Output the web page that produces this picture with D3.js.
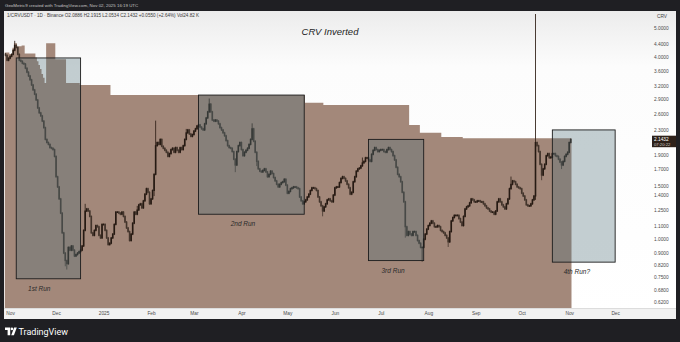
<!DOCTYPE html>
<html>
<head>
<meta charset="utf-8">
<script src="https://cdn.jsdelivr.net/npm/d3@7"></script>
<style>
  html, body { margin: 0; padding: 0; background: #1f1f23; }
  svg { display: block; font-family: "Liberation Sans", Arial, sans-serif; }
</style>
</head>
<body>
<svg id="chart" width="680" height="342"></svg>
<script>
// ---- data (1/CRVUSDT, daily) ----
var firstDay = Date.UTC(2024, 9, 29);   // first candle: Oct 29 2024
var firstOpen = 4.10;

// daily closes, one per day from firstDay
var closes = [
  4.06, 3.91, 3.97, 4.03, 4.09, 4.22, 4.38, 4.31, 4.09, 3.91,
  3.88, 3.82, 3.80, 3.68, 3.57, 3.47, 3.37, 3.24, 3.12, 3.02,
  2.89, 2.72, 2.62, 2.56, 2.46, 2.34, 2.14, 2.09, 2.06, 2.01,
  2.00, 1.98, 1.88, 1.61, 1.49, 1.36, 1.22, 1.05, 0.90, 0.85,
  0.83, 0.94, 0.92, 0.95, 0.92, 0.88, 0.89, 0.90, 0.91, 0.92,
  0.95, 1.07, 1.24, 1.26, 1.24, 1.19, 1.05, 1.03, 1.07, 1.11,
  1.10, 1.03, 1.01, 1.12, 1.12, 1.07, 1.01, 0.96, 0.97, 1.01,
  1.04, 1.12, 1.23, 1.23, 1.22, 1.21, 1.23, 1.19, 1.14, 1.09,
  1.06, 0.99, 1.04, 1.13, 1.23, 1.21, 1.25, 1.30, 1.31, 1.27,
  1.34, 1.41, 1.47, 1.43, 1.31, 1.36, 1.45, 1.64, 2.04, 2.09,
  2.06, 2.14, 2.03, 2.00, 1.97, 1.94, 1.88, 1.92, 1.98, 2.00,
  1.94, 2.01, 1.97, 1.94, 2.01, 1.98, 2.04, 2.14, 2.25, 2.30,
  2.23, 2.19, 2.22, 2.28, 2.32, 2.37, 2.39, 2.35, 2.32, 2.30,
  2.41, 2.52, 2.64, 2.80, 2.64, 2.48, 2.46, 2.48, 2.46, 2.41,
  2.34, 2.30, 2.25, 2.20, 2.12, 2.04, 2.01, 2.00, 1.95, 1.84,
  1.76, 1.95, 2.04, 2.09, 1.98, 1.89, 1.94, 1.97, 2.00, 2.06,
  2.14, 2.32, 2.11, 1.94, 1.81, 1.71, 1.68, 1.67, 1.69, 1.71,
  1.67, 1.61, 1.64, 1.68, 1.65, 1.60, 1.56, 1.52, 1.49, 1.52,
  1.54, 1.55, 1.58, 1.51, 1.42, 1.44, 1.47, 1.48, 1.49, 1.49,
  1.48, 1.47, 1.38, 1.34, 1.31, 1.33, 1.35, 1.38, 1.41, 1.45,
  1.48, 1.48, 1.47, 1.45, 1.38, 1.33, 1.29, 1.24, 1.28, 1.31,
  1.35, 1.36, 1.34, 1.33, 1.40, 1.48, 1.49, 1.49, 1.54, 1.59,
  1.61, 1.59, 1.56, 1.52, 1.48, 1.41, 1.43, 1.55, 1.61, 1.68,
  1.71, 1.72, 1.75, 1.79, 1.81, 1.86, 1.86, 1.83, 1.81, 1.91,
  1.97, 2.01, 1.98, 1.95, 1.97, 1.98, 1.98, 1.95, 1.94, 1.98,
  2.01, 1.98, 1.95, 1.89, 1.83, 1.73, 1.64, 1.61, 1.55, 1.43,
  1.33, 1.10, 1.03, 1.06, 1.04, 1.03, 1.06, 1.06, 1.03, 0.99,
  0.97, 0.94, 0.94, 1.00, 1.04, 1.08, 1.11, 1.13, 1.15, 1.13,
  1.10, 1.10, 1.11, 1.10, 1.07, 1.06, 1.05, 1.03, 1.01, 0.98,
  1.06, 1.15, 1.18, 1.20, 1.20, 1.20, 1.17, 1.14, 1.11, 1.19,
  1.26, 1.28, 1.29, 1.32, 1.36, 1.35, 1.33, 1.33, 1.34, 1.34,
  1.33, 1.33, 1.31, 1.29, 1.27, 1.26, 1.24, 1.23, 1.23, 1.21,
  1.24, 1.33, 1.36, 1.33, 1.30, 1.28, 1.26, 1.31, 1.36, 1.47,
  1.52, 1.56, 1.55, 1.52, 1.49, 1.48, 1.47, 1.42, 1.39, 1.35,
  1.30, 1.29, 1.29, 1.31, 1.35, 1.39, 2.09, 2.04, 1.95, 1.77,
  1.63, 1.71, 1.77, 1.89, 1.92, 1.86, 1.87, 1.92, 1.92, 1.89,
  1.88, 1.84, 1.80, 1.76, 1.81, 1.88, 1.91, 1.94, 2.09, 2.14
];

// notable wicks: [day index, high, low]
var wicks = [
  [6, 4.50, null], [39, null, 0.82], [40, null, 0.80], [52, 1.30, null],
  [86, 1.28, null], [97, null, 1.40], [98, 2.45, null], [118, 2.30, null],
  [133, 2.90, null], [150, null, 1.68], [161, 2.40, null], [164, null, 1.76],
  [207, null, 1.20], [233, 1.85, null], [261, null, 1.02], [272, null, 0.85],
  [289, null, 0.95], [330, 1.60, null], [346, 5.52, 1.36], [350, null, 1.58],
  [363, null, 1.72]
];

// brown step area (indicator): [from day index, level]
var areaSteps = [
  [0, 4.15], [3, 4.10], [5, 4.30], [6, 4.45], [8, 4.35], [11, 4.38], [13, 4.12],
  [20, 3.99], [21, 3.88], [22, 3.77], [23, 3.66], [24, 3.52], [25, 3.42], [26, 3.29],
  [27, 4.45], [33, 3.94], [40, 3.29], [49, 3.24], [69, 3.00], [196, 2.83],
  [208, 2.78], [264, 2.39], [271, 2.25], [285, 2.18], [299, 2.16]
];

// annotated boxes
var runNames  = ["1st Run", "2nd Run", "3rd Run", "4th Run?"];
var runStart  = [Date.UTC(2024, 10, 5), Date.UTC(2025, 2, 4), Date.UTC(2025, 5, 23), Date.UTC(2025, 9, 21)];
var runEnd    = [Date.UTC(2024, 11, 17), Date.UTC(2025, 4, 12), Date.UTC(2025, 6, 29), Date.UTC(2025, 11, 1)];
var runTop    = [3.98, 3.00, 2.14, 2.30];
var runBottom = [0.74, 1.21, 0.85, 0.84];
var runLabelAt = [Date.UTC(2024, 10, 20), Date.UTC(2025, 3, 2), Date.UTC(2025, 6, 9), Date.UTC(2025, 10, 6)];

var priceTicks = [5.0, 4.4, 4.0, 3.6, 3.2, 2.9, 2.6, 2.3, 1.9, 1.7, 1.5, 1.4, 1.25, 1.1, 1.0, 0.9, 0.82, 0.75, 0.68, 0.62];
var monthTicks = [
  Date.UTC(2024, 10, 1), Date.UTC(2024, 11, 1), Date.UTC(2025, 0, 1), Date.UTC(2025, 1, 1),
  Date.UTC(2025, 2, 1), Date.UTC(2025, 3, 1), Date.UTC(2025, 4, 1), Date.UTC(2025, 5, 1),
  Date.UTC(2025, 6, 1), Date.UTC(2025, 7, 1), Date.UTC(2025, 8, 1), Date.UTC(2025, 9, 1),
  Date.UTC(2025, 10, 1), Date.UTC(2025, 11, 1)
];
var monthLabels = ["Nov", "Dec", "2025", "Feb", "Mar", "Apr", "May", "Jun", "Jul", "Aug", "Sep", "Oct", "Nov", "Dec"];

var headerText = "GeoMetric9 created with TradingView.com, Nov 02, 2025 16:19 UTC";
var legendText = "1/CRVUSDT \u00b7 1D \u00b7 Binance   O2.0886  H2.1915  L2.0534  C2.1432  +0.0550 (+2.64%)  Vol24.82 K";
var lastPrice = 2.1432;
var countdown = "07:20:22";

// ---- layout ----
var DAY = 864e5;
var svg = d3.select("#chart");
var plotL = 4, plotR = 632, plotT = 11, plotB = 308;

var x = d3.scaleUtc()
  .domain([Date.UTC(2024, 9, 28), Date.UTC(2025, 11, 12)])
  .range([plotL, plotR]);
var y = d3.scaleLog().domain([0.62, 5]).range([302, 28]);

var defs = svg.append("defs");
var grad = defs.append("linearGradient").attr("id", "bg").attr("x1", 0).attr("y1", 0).attr("x2", 0).attr("y2", 1);
grad.append("stop").attr("offset", "0").attr("stop-color", "#ececec");
grad.append("stop").attr("offset", "0.18").attr("stop-color", "#fcfcfc");
grad.append("stop").attr("offset", "1").attr("stop-color", "#ffffff");
defs.append("clipPath").attr("id", "plotclip")
  .append("rect").attr("x", plotL).attr("y", plotT).attr("width", plotR - plotL).attr("height", plotB - plotT);

// frame + panel
svg.append("rect").attr("width", 680).attr("height", 342).attr("fill", "#1f1f23");
svg.append("rect").attr("x", 4).attr("y", 11).attr("width", 672).attr("height", 308).attr("fill", "url(#bg)");
svg.append("rect").attr("x", 4).attr("y", plotB).attr("width", 672).attr("height", 11).attr("fill", "#f1f1f1");
svg.append("line").attr("x1", 4).attr("x2", 676).attr("y1", plotB + 0.5).attr("y2", plotB + 0.5)
  .attr("stroke", "#dcdcdc").attr("stroke-width", 1);

svg.append("text").attr("x", 5).attr("y", 7).attr("font-size", 4.4).attr("fill", "#c4c4c4").text(headerText);

var plot = svg.append("g").attr("clip-path", "url(#plotclip)");

// brown step area
var lastIdx = closes.length - 1;
var areaPts = areaSteps.map(function(s) { return { t: firstDay + (s[0] - 0.5) * DAY, v: s[1] }; });
areaPts.push({ t: firstDay + (lastIdx + 0.5) * DAY, v: areaSteps[areaSteps.length - 1][1] });
plot.append("path")
  .datum(areaPts)
  .attr("fill", "#a3887a")
  .attr("d", d3.area().curve(d3.curveStepAfter)
    .x(function(d) { return x(d.t); })
    .y0(plotB)
    .y1(function(d) { return y(d.v); }));

// candles
var candles = closes.map(function(c, i) {
  var o = i === 0 ? firstOpen : closes[i - 1];
  var hi = Math.max(o, c), lo = Math.min(o, c);
  wicks.forEach(function(w) {
    if (w[0] === i) {
      if (w[1] != null) hi = Math.max(hi, w[1]);
      if (w[2] != null) lo = Math.min(lo, w[2]);
    }
  });
  return { t: firstDay + i * DAY, o: o, c: c, h: hi, l: lo };
});

var cg = plot.append("g");
cg.selectAll("line.wick")
  .data(candles)
  .enter().append("line")
  .attr("class", "wick")
  .attr("x1", function(d) { return x(d.t); })
  .attr("x2", function(d) { return x(d.t); })
  .attr("y1", function(d) { return y(d.h) - 1; })
  .attr("y2", function(d) { return y(d.l) + 1; })
  .attr("stroke", function(d) { return d.c >= d.o ? "#35261d" : "#4f4037"; })
  .attr("stroke-width", 0.9);
cg.selectAll("rect.body")
  .data(candles)
  .enter().append("rect")
  .attr("class", "body")
  .attr("x", function(d) { return x(d.t) - 0.8; })
  .attr("width", 1.6)
  .attr("y", function(d) { return y(Math.max(d.o, d.c)) - 0.5; })
  .attr("height", function(d) { return Math.max(1.4, Math.abs(y(d.o) - y(d.c)) + 1); })
  .attr("fill", function(d) { return d.c >= d.o ? "#261a13" : "#43352c"; });

// run boxes
var boxes = runNames.map(function(n, i) {
  return { name: n, s: runStart[i], e: runEnd[i], top: runTop[i], bot: runBottom[i], lab: runLabelAt[i] };
});
plot.selectAll("rect.run")
  .data(boxes)
  .enter().append("rect")
  .attr("class", "run")
  .attr("x", function(d) { return x(d.s); })
  .attr("y", function(d) { return y(d.top); })
  .attr("width", function(d) { return x(d.e) - x(d.s); })
  .attr("height", function(d) { return y(d.bot) - y(d.top); })
  .attr("fill", "rgba(82,114,122,0.34)")
  .attr("stroke", "#1c1c1c")
  .attr("stroke-width", 0.9);
plot.selectAll("text.runlabel")
  .data(boxes)
  .enter().append("text")
  .attr("class", "runlabel")
  .attr("x", function(d) { return x(d.lab); })
  .attr("y", function(d) { return y(d.bot) + 12; })
  .attr("text-anchor", "middle")
  .attr("font-size", 6.5)
  .attr("font-style", "italic")
  .attr("fill", "#2a2a2a")
  .text(function(d) { return d.name; });

// title + legend
svg.append("text").attr("x", 330).attr("y", 35).attr("text-anchor", "middle")
  .attr("font-size", 9.5).attr("font-style", "italic").attr("fill", "#1e1e1e").text("CRV Inverted");
svg.append("text").attr("x", 7).attr("y", 17).attr("font-size", 4.6).attr("fill", "#3a3a3a").text(legendText);

// price axis
var pa = svg.append("g");
pa.append("text").attr("x", 657).attr("y", 18).attr("font-size", 4.8).attr("fill", "#444").text("CRV");
pa.selectAll("text.tick")
  .data(priceTicks)
  .enter().append("text")
  .attr("class", "tick")
  .attr("x", 654)
  .attr("y", function(d) { return y(d) + 1.7; })
  .attr("font-size", 4.8)
  .attr("fill", "#4a4a4a")
  .text(d3.format(".4f"));
var ly = y(lastPrice);
pa.append("rect").attr("x", 652).attr("y", ly - 3.5).attr("width", 24).attr("height", 11.5).attr("fill", "#2e211a");
pa.append("text").attr("x", 654).attr("y", ly + 1.6).attr("font-size", 4.8).attr("fill", "#ffffff").text(d3.format(".4f")(lastPrice));
pa.append("text").attr("x", 654).attr("y", ly + 6.6).attr("font-size", 4.2).attr("fill", "#d8cec6").text(countdown);

// time axis
var xAxis = d3.axisBottom(x)
  .tickValues(monthTicks.map(function(t) { return new Date(t); }))
  .tickFormat(function(d, i) { return monthLabels[i]; })
  .tickSize(0)
  .tickPadding(3);
var xg = svg.append("g").attr("transform", "translate(0," + (plotB + 0.5) + ")").call(xAxis);
xg.select(".domain").remove();
xg.selectAll("text").attr("font-size", 4.8).attr("fill", "#4a4a4a").attr("font-family", "Liberation Sans, Arial, sans-serif");

// TradingView logo
var logo = svg.append("g").attr("fill", "#ffffff");
logo.append("path").attr("d", "M5 327.5 h5.2 v7.8 h-2.6 v-5.2 h-2.6 z");
logo.append("circle").attr("cx", 11.9).attr("cy", 328.9).attr("r", 1.3);
logo.append("path").attr("d", "M11.2 335.3 l2.9 -7.8 h2.7 l-2.9 7.8 z");
svg.append("text").attr("x", 18.5).attr("y", 334.6).attr("font-size", 9).attr("fill", "#ffffff")
  .attr("font-family", "Roboto, 'Liberation Sans', sans-serif").text("TradingView");
</script>
</body>
</html>
